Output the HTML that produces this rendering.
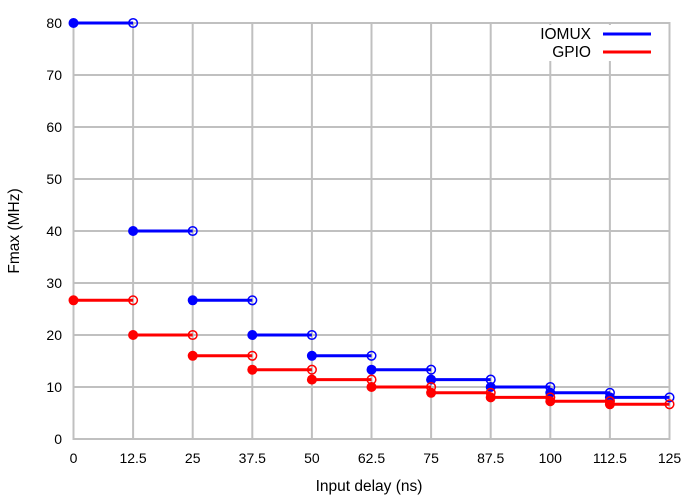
<!DOCTYPE html>
<html><head><style>body{margin:0;background:#fff}svg{display:block}text{font-family:"Liberation Sans",sans-serif;font-size:14px;fill:#000}.b{font-size:15.5px}</style></head>
<body>
<svg width="700" height="500" viewBox="0 0 700 500">
<g stroke="#c0c0c0" stroke-width="2" fill="none">
<path d="M133.1 23V439M192.7 23V439M252.3 23V439M311.9 23V439M371.5 23V439M431.1 23V439M490.7 23V439M550.3 23V439M609.9 23V439"/>
<path d="M73.5 387H669.5M73.5 335H669.5M73.5 283H669.5M73.5 231H669.5M73.5 179H669.5M73.5 127H669.5M73.5 75H669.5"/>
<rect x="73.5" y="23" width="596" height="416"/>
</g>
<rect x="530" y="25" width="138" height="36" fill="#fff"/>
<g text-anchor="end"><text x="62" y="444">0</text><text x="62" y="392">10</text><text x="62" y="340">20</text><text x="62" y="288">30</text><text x="62" y="236">40</text><text x="62" y="184">50</text><text x="62" y="132">60</text><text x="62" y="80">70</text><text x="62" y="28">80</text></g>
<g text-anchor="middle"><text x="73.5" y="463">0</text><text x="133.1" y="463">12.5</text><text x="192.7" y="463">25</text><text x="252.3" y="463">37.5</text><text x="311.9" y="463">50</text><text x="371.5" y="463">62.5</text><text x="431.1" y="463">75</text><text x="490.7" y="463">87.5</text><text x="550.3" y="463">100</text><text x="609.9" y="463">112.5</text><text x="669.5" y="463">125</text>
<text class="b" x="369" y="491">Input delay (ns)</text>
<text class="b" transform="translate(19 231) rotate(-90)">Fmax (MHz)</text></g>
<g text-anchor="end" class="b"><text class="b" x="591" y="39">IOMUX</text><text class="b" x="591" y="57">GPIO</text></g>
<path d="M603 34H651" stroke="#00f" stroke-width="3"/><path d="M603 52H651" stroke="#f00" stroke-width="3"/>
<g stroke="#00f" stroke-width="3" fill="none">
<path d="M73.5 23H133.1M133.1 231H192.7M192.7 300.3H252.3M252.3 335H311.9M311.9 355.8H371.5M371.5 369.7H431.1M431.1 379.6H490.7M490.7 387H550.3M550.3 392.8H609.9M609.9 397.4H669.5"/>
</g>
<g fill="#00f"><circle cx="73.5" cy="23" r="5"/><circle cx="133.1" cy="231" r="5"/><circle cx="192.7" cy="300.3" r="5"/><circle cx="252.3" cy="335" r="5"/><circle cx="311.9" cy="355.8" r="5"/><circle cx="371.5" cy="369.7" r="5"/><circle cx="431.1" cy="379.6" r="5"/><circle cx="490.7" cy="387" r="5"/><circle cx="550.3" cy="392.8" r="5"/><circle cx="609.9" cy="397.4" r="5"/></g>
<g fill="none" stroke="#00f" stroke-width="1.5"><circle cx="133.1" cy="23" r="4.3"/><circle cx="192.7" cy="231" r="4.3"/><circle cx="252.3" cy="300.3" r="4.3"/><circle cx="311.9" cy="335" r="4.3"/><circle cx="371.5" cy="355.8" r="4.3"/><circle cx="431.1" cy="369.7" r="4.3"/><circle cx="490.7" cy="379.6" r="4.3"/><circle cx="550.3" cy="387" r="4.3"/><circle cx="609.9" cy="392.8" r="4.3"/><circle cx="669.5" cy="397.4" r="4.3"/></g>
<g stroke="#f00" stroke-width="3" fill="none">
<path d="M73.5 300.3H133.1M133.1 335H192.7M192.7 355.8H252.3M252.3 369.7H311.9M311.9 379.6H371.5M371.5 387H431.1M431.1 392.8H490.7M490.7 397.4H550.3M550.3 401.2H609.9M609.9 404.3H669.5"/>
</g>
<g fill="#f00"><circle cx="73.5" cy="300.3" r="5"/><circle cx="133.1" cy="335" r="5"/><circle cx="192.7" cy="355.8" r="5"/><circle cx="252.3" cy="369.7" r="5"/><circle cx="311.9" cy="379.6" r="5"/><circle cx="371.5" cy="387" r="5"/><circle cx="431.1" cy="392.8" r="5"/><circle cx="490.7" cy="397.4" r="5"/><circle cx="550.3" cy="401.2" r="5"/><circle cx="609.9" cy="404.3" r="5"/></g>
<g fill="none" stroke="#f00" stroke-width="1.5"><circle cx="133.1" cy="300.3" r="4.3"/><circle cx="192.7" cy="335" r="4.3"/><circle cx="252.3" cy="355.8" r="4.3"/><circle cx="311.9" cy="369.7" r="4.3"/><circle cx="371.5" cy="379.6" r="4.3"/><circle cx="431.1" cy="387" r="4.3"/><circle cx="490.7" cy="392.8" r="4.3"/><circle cx="550.3" cy="397.4" r="4.3"/><circle cx="609.9" cy="401.2" r="4.3"/><circle cx="669.5" cy="404.3" r="4.3"/></g>
</svg>
</body></html>
